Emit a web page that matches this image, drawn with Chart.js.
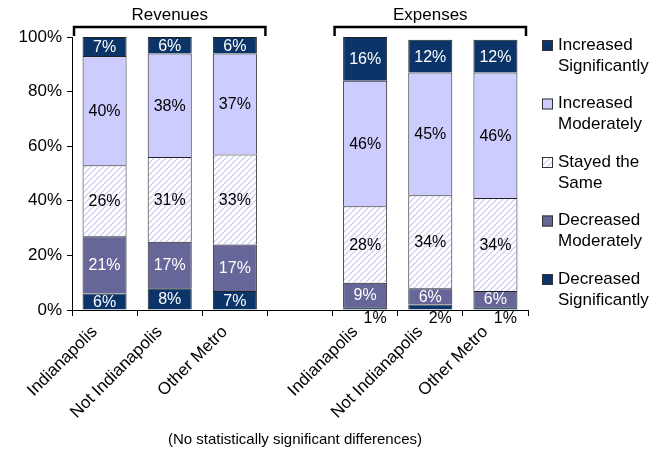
<!DOCTYPE html>
<html lang="en">
<head>
  <meta charset="UTF-8" />
  <title>Revenues and Expenses</title>
  <script src="https://cdn.jsdelivr.net/npm/chart.js"></script>
  <style>
    html, body { margin: 0; padding: 0; background: #fff; }
    #wrap { width: 669px; height: 452px; }
  </style>
</head>
<body>
  <div id="wrap"><canvas id="chart" width="669" height="452"></canvas></div>

  <script>
    const categories = ["Indianapolis", "Not Indianapolis", "Other Metro", "", "Indianapolis", "Not Indianapolis", "Other Metro"];
    const groups = [
      { title: "Revenues", from: 0, to: 2 },
      { title: "Expenses", from: 4, to: 6 }
    ];
    const decreasedSignificantly = [6, 8, 7, null, 1, 2, 1];
    const decreasedModerately = [21, 17, 17, null, 9, 6, 6];
    const stayedTheSame = [26, 31, 33, null, 28, 34, 34];
    const increasedModerately = [40, 38, 37, null, 46, 45, 46];
    const increasedSignificantly = [7, 6, 6, null, 16, 12, 12];
    const yTicks = [0, 20, 40, 60, 80, 100];
    const footnote = "(No statistically significant differences)";

    const FONT = "'Liberation Sans', Arial, sans-serif";
    const NAVY = "#0b3468";
    const LAVENDER = "#ccccff";
    const SLATE = "#666699";

    // diagonal hatch used for "Stayed the Same"
    function hatch() {
      const c = document.createElement("canvas");
      c.width = 6; c.height = 6;
      const g = c.getContext("2d");
      g.fillStyle = "#fff";
      g.fillRect(0, 0, 6, 6);
      g.strokeStyle = "#c9c9f0";
      g.lineWidth = 1.2;
      g.beginPath();
      g.moveTo(0, 6); g.lineTo(6, 0);
      g.moveTo(-3, 3); g.lineTo(3, -3);
      g.moveTo(3, 9); g.lineTo(9, 3);
      g.stroke();
      return g.createPattern(c, "repeat");
    }
    const hatchFill = hatch();

    const series = [
      { label: ["Decreased", "Significantly"], data: decreasedSignificantly, bg: NAVY, text: "#fff" },
      { label: ["Decreased", "Moderately"], data: decreasedModerately, bg: SLATE, text: "#fff" },
      { label: ["Stayed the", "Same"], data: stayedTheSame, bg: hatchFill, text: "#000" },
      { label: ["Increased", "Moderately"], data: increasedModerately, bg: LAVENDER, text: "#000" },
      { label: ["Increased", "Significantly"], data: increasedSignificantly, bg: NAVY, text: "#fff" }
    ];

    // percentage labels inside each segment; tiny segments get theirs under the axis
    const valueLabels = {
      id: "valueLabels",
      afterDatasetsDraw(chart) {
        const ctx = chart.ctx;
        ctx.save();
        ctx.font = "16px " + FONT;
        ctx.textAlign = "center";
        ctx.textBaseline = "middle";
        chart.data.datasets.forEach((ds, i) => {
          chart.getDatasetMeta(i).data.forEach((bar, j) => {
            const v = ds.data[j];
            if (v == null) return;
            if (v < 3) {
              ctx.fillStyle = "#000";
              ctx.fillText(v + "%", bar.x + 10, chart.scales.y.bottom + 9);
            } else {
              ctx.fillStyle = series[i].text;
              ctx.fillText(v + "%", bar.x, (bar.y + bar.base) / 2 + 1);
            }
          });
        });
        ctx.restore();
      }
    };

    // group brackets above the bars, legend on the right, footnote
    const decorations = {
      id: "decorations",
      afterDraw(chart) {
        const ctx = chart.ctx;
        const x = chart.scales.x;
        const slot = x.getPixelForValue(1) - x.getPixelForValue(0);
        ctx.save();
        ctx.strokeStyle = "#000";
        ctx.fillStyle = "#000";
        ctx.lineWidth = 2.5;
        ctx.font = "17px " + FONT;
        ctx.textAlign = "center";
        ctx.textBaseline = "middle";
        groups.forEach(g => {
          const l = x.getPixelForValue(g.from) - slot / 2 + 2;
          const r = x.getPixelForValue(g.to) + slot / 2 - 2;
          ctx.beginPath();
          ctx.moveTo(l, 36); ctx.lineTo(l, 27); ctx.lineTo(r, 27); ctx.lineTo(r, 36);
          ctx.stroke();
          ctx.fillText(g.title, (l + r) / 2, 15);
        });

        // legend, top item first
        ctx.textAlign = "left";
        ctx.lineWidth = 1;
        const items = series.slice().reverse();
        items.forEach((s, k) => {
          const y0 = 45 + k * 58.5;
          ctx.fillStyle = s.bg;
          ctx.fillRect(542, y0 - 5, 11, 11);
          ctx.strokeStyle = "#333";
          ctx.strokeRect(542.5, y0 - 4.5, 10, 10);
          ctx.fillStyle = "#000";
          ctx.fillText(s.label[0], 558, y0);
          ctx.fillText(s.label[1], 558, y0 + 21);
        });

        ctx.textAlign = "center";
        ctx.font = "15px " + FONT;
        ctx.fillText(footnote, 295, 440);
        ctx.restore();
      }
    };

    new Chart(document.getElementById("chart"), {
      type: "bar",
      data: {
        labels: categories,
        datasets: series.map(s => ({
          label: s.label.join(" "),
          data: s.data,
          backgroundColor: s.bg,
          borderColor: "#222",
          borderWidth: 1,
          barPercentage: 0.676,
          categoryPercentage: 1
        }))
      },
      options: {
        responsive: false,
        animation: false,
        layout: { padding: { top: 37, right: 141, bottom: 0, left: 0 } },
        plugins: { legend: { display: false }, tooltip: { enabled: false } },
        scales: {
          x: {
            stacked: true,
            afterFit: s => { s.height = 142; },
            grid: { offset: true, drawOnChartArea: false, color: "#000", tickLength: 6 },
            border: { color: "#000", width: 1 },
            ticks: {
              color: "#000",
              font: { family: FONT, size: 17 },
              maxRotation: 45,
              minRotation: 45,
              autoSkip: false,
              labelOffset: -10,
              padding: 6
            }
          },
          y: {
            stacked: true,
            min: 0,
            max: 100,
            afterFit: s => { s.width = 72; },
            afterBuildTicks: s => { s.ticks = yTicks.map(v => ({ value: v })); },
            grid: { drawOnChartArea: false, color: "#000", tickLength: 5 },
            border: { color: "#000", width: 1 },
            ticks: {
              color: "#000",
              font: { family: FONT, size: 17 },
              padding: 5,
              callback: v => v + "%"
            }
          }
        }
      },
      plugins: [valueLabels, decorations]
    });
  </script>
</body>
</html>
